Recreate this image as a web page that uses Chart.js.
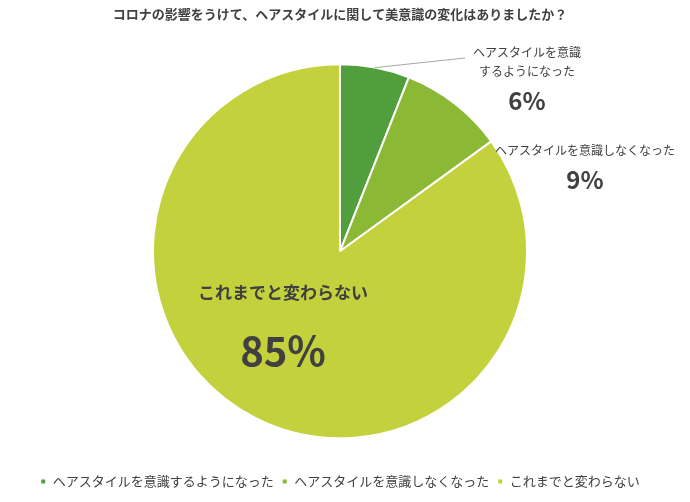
<!DOCTYPE html><html><head><meta charset="utf-8">
<script src="https://cdn.jsdelivr.net/npm/chart.js@4"></script>
<style>body{margin:0;background:#fff}#w{width:690px;height:502px}</style></head><body>
<div id="w"><canvas id="c"></canvas></div>
<script>
const categories=['ヘアスタイルを意識するようになった','ヘアスタイルを意識しなくなった','これまでと変わらない'];
const values=[6,9,85];
const colors=['#519e3c','#8cb935','#c3d13c'];
const F='"Noto Sans CJK JP","Noto Sans",sans-serif';
const labelPlugin={id:'lbl',afterDatasetsDraw(ch){
  const ctx=ch.ctx; const arcs=ch.getDatasetMeta(0).data; const cx=arcs[0].x, cy=arcs[0].y, r=arcs[0].outerRadius;
  ctx.save(); ctx.fillStyle='#404040'; ctx.textAlign='center'; ctx.textBaseline='middle';
  // leader line for slice 1
  const a0=(arcs[0].startAngle+arcs[0].endAngle)/2;
  ctx.strokeStyle='#a6a6a6'; ctx.lineWidth=1; ctx.beginPath();
  ctx.moveTo(cx+r*Math.cos(a0),cy+r*Math.sin(a0)); ctx.lineTo(465,58); ctx.stroke();
  ctx.font='12px '+F;
  ctx.fillText('ヘアスタイルを意識',527,52); ctx.fillText('するようになった',527,71);
  ctx.font='bold 24px '+F; ctx.fillText(values[0]+'%',527,101);
  ctx.font='12px '+F; ctx.fillText(categories[1],585,150);
  ctx.font='bold 24px '+F; ctx.fillText(values[1]+'%',585,180);
  ctx.font='bold 17px '+F; ctx.fillText(categories[2],283,293);
  ctx.font='bold 40px '+F; ctx.fillText(values[2]+'%',283,351);
  ctx.restore();
}};
new Chart(document.getElementById('c'),{type:'pie',
 data:{labels:categories,datasets:[{data:values,backgroundColor:colors,borderColor:'#fff',borderWidth:2}]},
 options:{responsive:true,maintainAspectRatio:false,animation:false,radius:187,
  layout:{padding:{right:10,top:0,bottom:4}},
  plugins:{tooltip:{enabled:false},
   title:{display:true,text:'コロナの影響をうけて、ヘアスタイルに関して美意識の変化はありましたか？',color:'#404040',font:{family:F,size:13,weight:'bold'},padding:{top:6,bottom:14}},
   legend:{position:'bottom',labels:{boxWidth:6,boxHeight:6,color:'#404040',font:{family:F,size:13},padding:8}}}},
 plugins:[labelPlugin]});
</script></body></html>
